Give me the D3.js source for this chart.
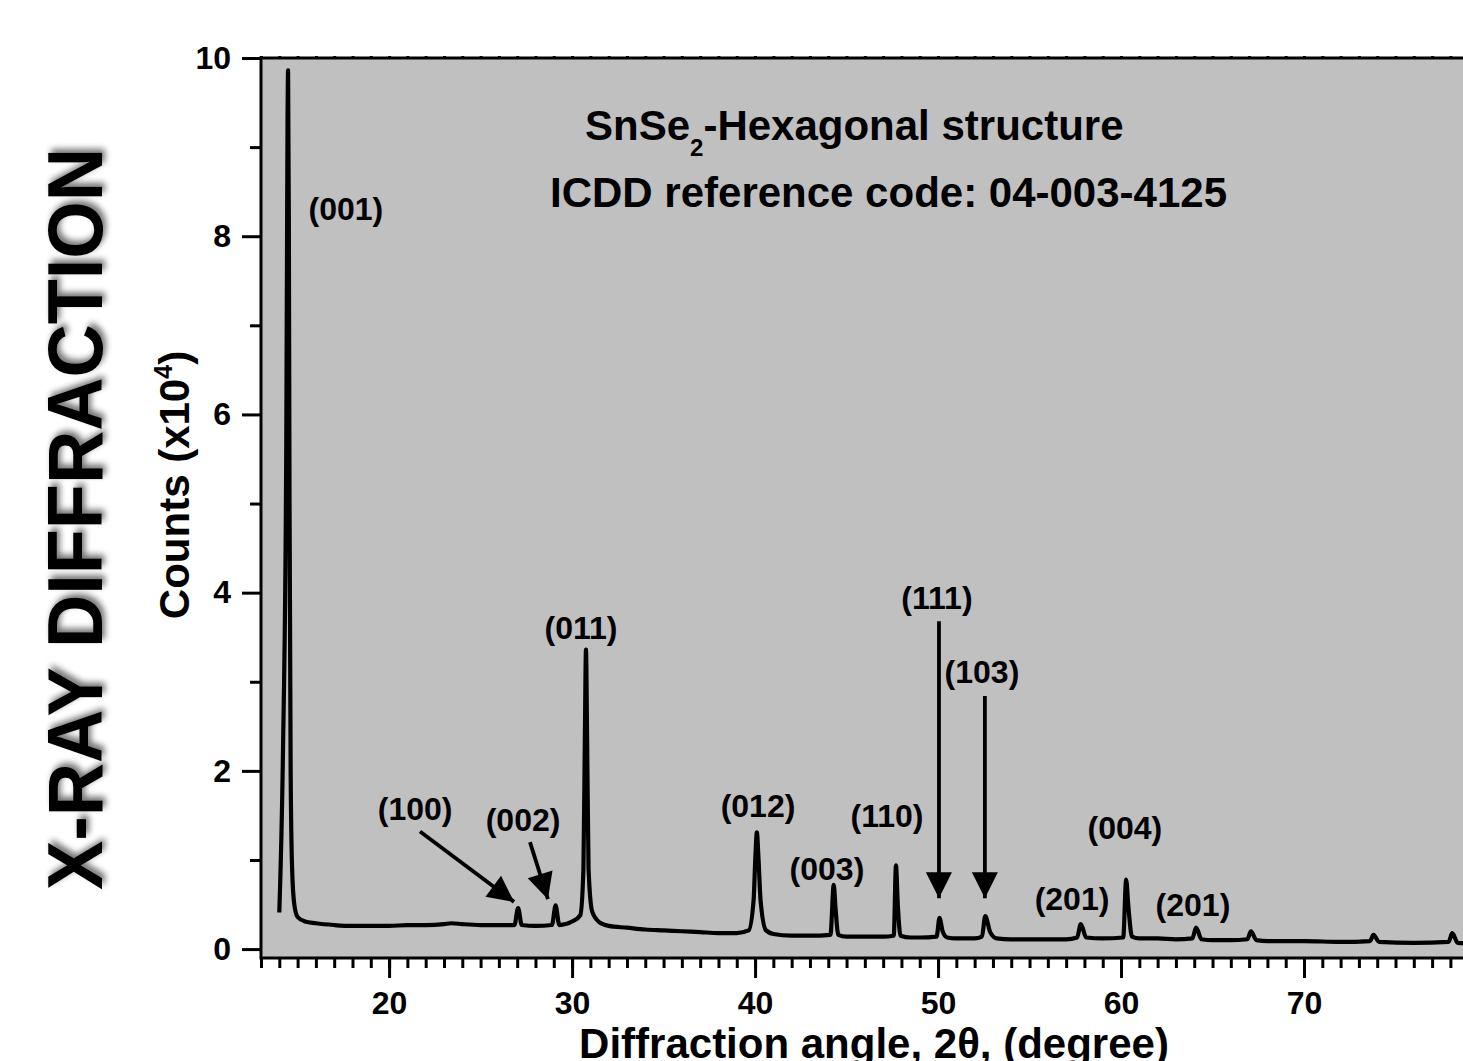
<!DOCTYPE html>
<html>
<head>
<meta charset="utf-8">
<script src="https://cdn.jsdelivr.net/npm/d3@7"></script>
<style>
    body { margin: 0; background: #fff; }
    svg { display: block; font-family: "Liberation Sans", Arial, sans-serif; font-weight: bold; }
</style>
</head>
<body>
<div id="chart"></div>
<script>
// 衍射数据，从图上读取 (2θ, 计数 x10^4)
const angles = [
    14.00, 14.20, 14.38, 14.45, 14.48, 14.52, 14.56, 14.62, 14.70, 14.82, 15.00, 15.40, 16.0, 17.0, 18.0, 19.0,
    20.0, 21.0, 22.0, 23.0, 23.4, 24.0, 25.0, 26.0, 26.85, 27.05, 27.25, 28.0, 28.9, 29.1, 29.3,
    30.0, 30.45, 30.62, 30.70, 30.76, 30.82, 30.90, 31.10, 31.50, 32.0, 33.0, 34.0, 35.0, 36.0, 37.0, 38.0, 39.0,
    39.65, 39.92, 40.02, 40.10, 40.18, 40.30, 40.60, 41.0, 42.0, 43.0, 44.12, 44.30, 44.40, 44.55,
    45.0, 46.0, 47.0, 47.58, 47.70, 47.80, 47.95, 48.5, 49.0, 49.92, 50.08, 50.25, 50.50, 51.0, 52.0,
    52.40, 52.58, 52.85, 53.20, 54.0, 55.0, 56.0, 57.0, 57.60, 57.80, 58.10, 59.0, 60.12, 60.28, 60.40, 60.60,
    61.0, 62.0, 63.0, 63.90, 64.10, 64.40, 65.0, 66.0, 66.90, 67.10, 67.40, 68.0, 70.0, 72.0, 73.60, 73.80, 74.10,
    76.0, 77.90, 78.10, 78.40, 80.0
];
const counts = [
    0.41, 2.20, 5.60, 9.30, 9.86, 8.20, 5.00, 2.00, 0.90, 0.50, 0.36, 0.31, 0.29, 0.27, 0.26, 0.26,
    0.26, 0.27, 0.27, 0.28, 0.29, 0.28, 0.27, 0.27, 0.27, 0.46, 0.27, 0.26, 0.27, 0.49, 0.27,
    0.31, 0.38, 0.90, 2.40, 3.36, 2.40, 0.90, 0.42, 0.30, 0.26, 0.24, 0.22, 0.21, 0.20, 0.19, 0.18, 0.18,
    0.21, 0.55, 1.05, 1.31, 1.05, 0.55, 0.21, 0.17, 0.15, 0.15, 0.16, 0.72, 0.45, 0.16,
    0.14, 0.14, 0.14, 0.15, 0.94, 0.50, 0.15, 0.13, 0.13, 0.14, 0.35, 0.20, 0.13, 0.12, 0.12,
    0.14, 0.37, 0.19, 0.12, 0.11, 0.11, 0.11, 0.11, 0.13, 0.28, 0.13, 0.12, 0.13, 0.78, 0.48, 0.14,
    0.12, 0.12, 0.11, 0.12, 0.24, 0.11, 0.10, 0.10, 0.11, 0.20, 0.10, 0.09, 0.09, 0.08, 0.09, 0.16, 0.08,
    0.07, 0.08, 0.18, 0.07, 0.06
];

// 晶面标注 (文字, 2θ, 计数)
const peakLabels = ['(001)', '(011)', '(100)', '(002)', '(012)', '(003)', '(110)', '(111)', '(103)', '(201)', '(004)', '(201)'];
const labelAngles = [17.64, 30.49, 21.42, 27.32, 40.16, 43.93, 47.21, 49.94, 52.40, 57.32, 60.21, 63.93];
const labelCounts = [8.18, 3.48, 1.45, 1.33, 1.48, 0.78, 1.37, 3.82, 2.99, 0.44, 1.23, 0.37];

// 箭头 起点/终点
const arrowFrom = [[21.69, 1.32], [27.70, 1.20], [50.05, 3.68], [52.56, 2.84]];
const arrowTo = [[26.83, 0.53], [28.68, 0.56], [50.05, 0.57], [52.56, 0.57]];

const xTicks = [20, 30, 40, 50, 60, 70];
const yTicks = [0, 2, 4, 6, 8, 10];

const dimensions = {
    width: 1463,
    height: 1061,
    margin: { top: 58, left: 261 }
};
dimensions.boundWidth = 1226;
dimensions.boundHeight = 900;

const svg = d3.select('#chart')
    .append('svg')
    .attr('width', dimensions.width)
    .attr('height', dimensions.height);

const defs = svg.append('defs');
defs.append('clipPath').attr('id', 'clip')
    .append('rect')
    .attr('width', dimensions.boundWidth)
    .attr('height', dimensions.boundHeight);
defs.append('marker')
    .attr('id', 'head')
    .attr('viewBox', '0 0 10 10')
    .attr('markerUnits', 'userSpaceOnUse')
    .attr('markerWidth', 28)
    .attr('markerHeight', 26)
    .attr('refX', 10)
    .attr('refY', 5)
    .attr('orient', 'auto')
    .append('path')
    .attr('d', 'M0,0L10,5L0,10Z')
    .attr('fill', '#000');
const shadow = defs.append('filter').attr('id', 'shadow')
    .attr('x', '-20%').attr('y', '-20%').attr('width', '140%').attr('height', '140%');
shadow.append('feGaussianBlur').attr('in', 'SourceAlpha').attr('stdDeviation', 3).attr('result', 'b');
shadow.append('feOffset').attr('in', 'b').attr('dx', 4).attr('dy', 3).attr('result', 'o');
shadow.append('feComponentTransfer').attr('in', 'o').attr('result', 's')
    .append('feFuncA').attr('type', 'linear').attr('slope', 0.55);
const merge = shadow.append('feMerge');
merge.append('feMergeNode').attr('in', 's');
merge.append('feMergeNode').attr('in', 'SourceGraphic');

const bounds = svg.append('g')
    .attr('transform', `translate(${dimensions.margin.left},${dimensions.margin.top})`);

const xScale = d3.scaleLinear().domain([13, 80]).range([0, dimensions.boundWidth]);
const yScale = d3.scaleLinear().domain([-0.1, 10]).range([dimensions.boundHeight, 0]);

// 背景
bounds.append('rect')
    .attr('width', dimensions.boundWidth)
    .attr('height', dimensions.boundHeight)
    .attr('fill', '#c0c0c0');

// 曲线
const lineGenerator = d3.line()
    .x((d, i) => xScale(angles[i]))
    .y(d => yScale(d))
    .curve(d3.curveMonotoneX);

bounds.append('path')
    .attr('clip-path', 'url(#clip)')
    .attr('d', lineGenerator(counts))
    .attr('fill', 'none')
    .attr('stroke', '#000')
    .attr('stroke-width', 4.2)
    .attr('stroke-linejoin', 'round');

// X轴
const xAxis = d3.axisBottom(xScale).tickValues(xTicks).tickSize(20).tickPadding(13);
const xAxisG = bounds.append('g')
    .attr('transform', `translate(0,${dimensions.boundHeight})`)
    .call(xAxis);
bounds.append('g')
    .attr('transform', `translate(0,${dimensions.boundHeight})`)
    .call(d3.axisBottom(xScale).tickValues(d3.range(13, 81)).tickSize(10).tickFormat(''));
bounds.append('g')
    .call(d3.axisTop(xScale).tickValues(d3.range(13, 81)).tickSize(2).tickFormat(''));

// Y轴
const yAxis = d3.axisLeft(yScale).tickValues(yTicks).tickSize(19).tickPadding(11);
bounds.append('g').call(yAxis);
bounds.append('g')
    .call(d3.axisLeft(yScale).tickValues([1, 3, 5, 7, 9]).tickSize(11).tickFormat(''));

bounds.selectAll('.domain').remove();
bounds.selectAll('.tick line').attr('stroke', '#000').attr('stroke-width', 3);
bounds.selectAll('.tick text')
    .attr('fill', '#000')
    .style('font-size', '32px')
    .style('font-family', '"Liberation Sans", Arial, sans-serif')
    .style('font-weight', 'bold');
xAxisG.selectAll('.tick text').attr('dy', '0.72em');

// 边框
bounds.append('rect')
    .attr('width', dimensions.boundWidth)
    .attr('height', dimensions.boundHeight)
    .attr('fill', 'none')
    .attr('stroke', '#000')
    .attr('stroke-width', 3);

// 晶面标注
bounds.append('g')
    .selectAll('text')
    .data(peakLabels)
    .join('text')
    .attr('x', (d, i) => xScale(labelAngles[i]))
    .attr('y', (d, i) => yScale(labelCounts[i]))
    .attr('text-anchor', 'middle')
    .style('font-size', '32px')
    .text(d => d);

// 箭头
bounds.append('g')
    .selectAll('line')
    .data(arrowFrom)
    .join('line')
    .attr('x1', d => xScale(d[0]))
    .attr('y1', d => yScale(d[1]))
    .attr('x2', (d, i) => xScale(arrowTo[i][0]))
    .attr('y2', (d, i) => yScale(arrowTo[i][1]))
    .attr('stroke', '#000')
    .attr('stroke-width', 3.8)
    .attr('marker-end', 'url(#head)');

// 标题
const title = bounds.append('text')
    .attr('x', 324)
    .attr('y', 82)
    .style('font-size', '42px');
title.append('tspan').text('SnSe');
title.append('tspan').attr('dy', 16).style('font-size', '24px').text('2');
title.append('tspan').attr('dy', -16).text('-Hexagonal structure');

bounds.append('text')
    .attr('x', 289)
    .attr('y', 149)
    .style('font-size', '42px')
    .text('ICDD reference code: 04-003-4125');

// 坐标轴标题 (原图底部被裁掉一半)
svg.append('text')
    .attr('x', dimensions.margin.left + dimensions.boundWidth / 2)
    .attr('y', 1058)
    .attr('text-anchor', 'middle')
    .style('font-size', '42px')
    .text('Diffraction angle, 2θ, (degree)');

const yTitle = svg.append('text')
    .attr('transform', 'translate(189,485) rotate(-90)')
    .attr('text-anchor', 'middle')
    .style('font-size', '42px');
yTitle.append('tspan').text('Counts (x10');
yTitle.append('tspan').attr('dy', -17).style('font-size', '25px').text('4');
yTitle.append('tspan').attr('dy', 17).text(')');

svg.append('text')
    .attr('transform', 'translate(102,519) rotate(-90)')
    .attr('text-anchor', 'middle')
    .attr('textLength', 742)
    .attr('lengthAdjust', 'spacingAndGlyphs')
    .attr('filter', 'url(#shadow)')
    .style('font-size', '78px')
    .text('X-RAY DIFFRACTION');
</script>
</body>
</html>
